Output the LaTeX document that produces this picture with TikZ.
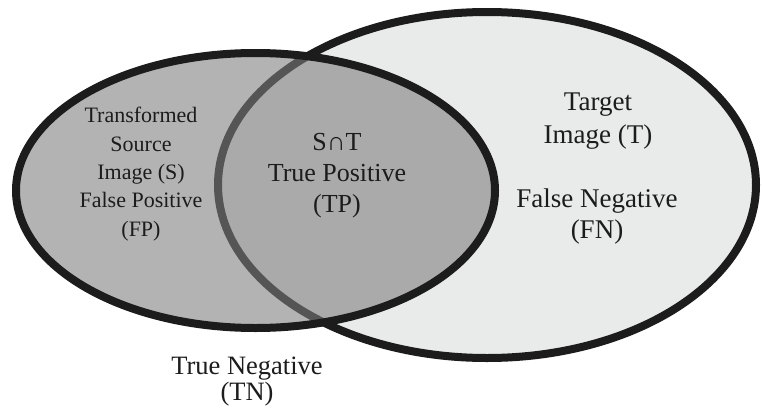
\documentclass[tikz,border=0pt]{standalone}
\usepackage{fontspec}
\setmainfont{Liberation Serif}
\definecolor{targetfill}{RGB}{233,234,234}
\definecolor{sourcefill}{RGB}{126,126,128}
\definecolor{ink}{RGB}{28,28,28}
\begin{document}
\begin{tikzpicture}[x=1pt,y=-1pt,
  ring/.style={line width=8pt, draw=ink},
  lbl/.style={align=center, inner sep=0pt, anchor=base, text=ink}]
\useasboundingbox (0,0) rectangle (763,415);
\fill[white] (0,0) rectangle (763,415);
% target set T
\path[ring, fill=targetfill] (487,185) ellipse [x radius=269, y radius=173];
% transformed source set S, translucent so the T outline shows through
\path[fill=sourcefill, fill opacity=0.59] (255.5,190.5) ellipse [x radius=239.5, y radius=137.5];
\path[ring] (255.5,190.5) ellipse [x radius=239.5, y radius=137.5];
% region labels (anchored at the baseline of their last line)
\node[lbl, font=\fontsize{22}{28.3}\selectfont] (fp) at (141,236)
  {Transformed\\Source\\Image (S)\\False Positive\\(FP)};
\node[lbl, font=\fontsize{26}{31}\selectfont] (tp) at (337,212)
  {S∩T\\True Positive\\(TP)};
\node[lbl, font=\fontsize{27}{33}\selectfont] (tt) at (598,143)
  {Target\\Image (T)};
\node[lbl, font=\fontsize{27}{31}\selectfont] (fn) at (597,238)
  {False Negative\\(FN)};
\node[lbl, font=\fontsize{26.5}{26}\selectfont] (tn) at (247,400)
  {True Negative\\(TN)};
\end{tikzpicture}
\end{document}
